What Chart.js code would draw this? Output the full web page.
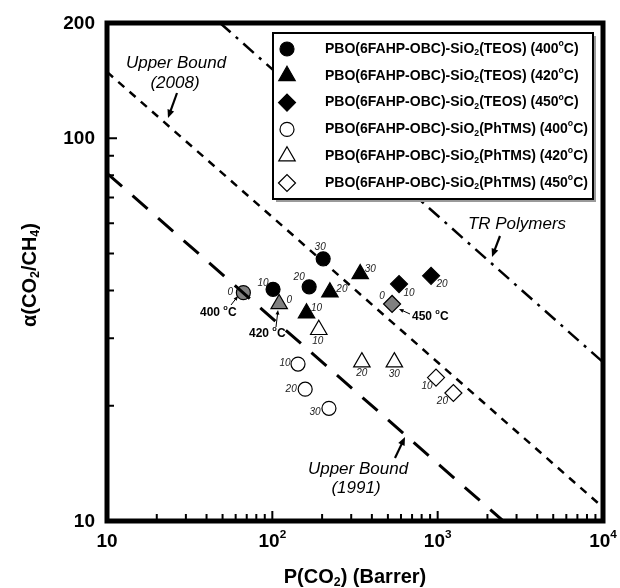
<!DOCTYPE html>
<html>
<head>
<meta charset="utf-8">
<script src="https://cdn.jsdelivr.net/npm/chart.js@4.4.0/dist/chart.umd.min.js"></script>
<style>
  html, body { margin: 0; padding: 0; background: #fff; }
  #wrap { width: 620px; height: 588px; }
</style>
</head>
<body>
<div id="wrap"><canvas id="chart" width="620" height="588"></canvas></div>
<script>
// P(CO2) in Barrer and CO2/CH4 selectivity.
// The first point of each TEOS series is the pristine (0 wt%) membrane.
const teos400P = [66.8, 101, 167, 203];
const teos400A = [39.5, 40.3, 40.9, 48.4];
const teos400Lbl = ['0', '10', '20', '30'];

const teos420P = [110, 161, 223, 340];
const teos420A = [36.9, 34.9, 39.6, 44.2];
const teos420Lbl = ['0', '10', '20', '30'];

const teos450P = [530, 584, 912];
const teos450A = [36.9, 41.6, 43.7];
const teos450Lbl = ['0', '10', '20'];

const phtms400P = [143, 158, 220];
const phtms400A = [25.7, 22.1, 19.7];
const phtms400Lbl = ['10', '20', '30'];

const phtms420P = [191, 348, 547];
const phtms420A = [31.6, 26.0, 26.0];
const phtms420Lbl = ['10', '20', '30'];

const phtms450P = [977, 1245];
const phtms450A = [23.7, 21.6];
const phtms450Lbl = ['10', '20'];

// trade-off lines, end points
const bound1991P = [10, 2490];
const bound1991A = [81, 10];
const bound2008P = [10, 10000];
const bound2008A = [149, 10.85];
const trP = [48.3, 10000];
const trA = [200, 26.0];

const xTicks = [10, 100, 1000, 10000];
const xTickText = [['10', ''], ['10', '2'], ['10', '3'], ['10', '4']];
const yTicks = [10, 100, 200];

const FONT = '"Liberation Sans", Arial, sans-serif';
const GREY = '#808080';

function pts(xs, ys) {
  return xs.map((x, i) => ({ x: x, y: ys[i] }));
}

// grey fill for the pristine point, black for the rest
function fills(n, firstGrey) {
  return Array.from({ length: n }, (_, i) => (firstGrey && i === 0 ? GREY : '#000'));
}

// label offsets (px) from each marker
const lblOffsets = [
  [[-13, 0], [-10, -6], [-10, -10], [-3, -12]],
  [[10, -4], [10, -5], [12, -3], [10, -5]],
  [[-10, -8], [10, 9], [11, 8]],
  [[-13, -1], [-14, 0], [-14, 4]],
  [[-1, 11], [0, 11], [0, 12]],
  [[-9, 9], [-11, 8]]
];

const markerSets = [
  { name: 'TEOS', temp: '400', P: teos400P, A: teos400A, lbl: teos400Lbl, style: 'circle', r: 7, fill: fills(4, true) },
  { name: 'TEOS', temp: '420', P: teos420P, A: teos420A, lbl: teos420Lbl, style: 'triangle', r: 9.5, fill: fills(4, true) },
  { name: 'TEOS', temp: '450', P: teos450P, A: teos450A, lbl: teos450Lbl, style: 'rectRot', r: 8.5, fill: fills(3, true) },
  { name: 'PhTMS', temp: '400', P: phtms400P, A: phtms400A, lbl: phtms400Lbl, style: 'circle', r: 7, fill: '#fff' },
  { name: 'PhTMS', temp: '420', P: phtms420P, A: phtms420A, lbl: phtms420Lbl, style: 'triangle', r: 9.5, fill: '#fff' },
  { name: 'PhTMS', temp: '450', P: phtms450P, A: phtms450A, lbl: phtms450Lbl, style: 'rectRot', r: 8.5, fill: '#fff' }
];

const datasets = [
  { label: 'bound1991', data: pts(bound1991P, bound1991A), showLine: true, pointRadius: 0,
    borderColor: '#000', borderWidth: 3, borderDash: [20, 14] },
  { label: 'bound2008', data: pts(bound2008P, bound2008A), showLine: true, pointRadius: 0,
    borderColor: '#000', borderWidth: 2.5, borderDash: [8, 7] },
  { label: 'tr', data: pts(trP, trA), showLine: true, pointRadius: 0,
    borderColor: '#000', borderWidth: 2.5, borderDash: [14, 7, 3, 7] }
];
markerSets.forEach(s => {
  datasets.push({
    label: s.name + s.temp,
    data: pts(s.P, s.A),
    pointStyle: s.style,
    pointRadius: s.r,
    pointBackgroundColor: s.fill,
    pointBorderColor: '#000',
    pointBorderWidth: 1.2,
    showLine: false
  });
});

// draw text pieces with sub/superscripts; returns width
function richWidth(ctx, parts, size, style) {
  let w = 0;
  parts.forEach(p => {
    const s = p[1] ? size * 0.62 : size;
    ctx.font = style + ' ' + s + 'px ' + FONT;
    w += ctx.measureText(p[0]).width;
  });
  return w;
}
function drawRich(ctx, parts, x, y, size, style) {
  parts.forEach(p => {
    const s = p[1] ? size * 0.62 : size;
    ctx.font = style + ' ' + s + 'px ' + FONT;
    let dy = 0;
    if (p[1] === 'sub') dy = size * 0.28;
    if (p[1] === 'sup') dy = -size * 0.38;
    ctx.fillText(p[0], x, y + dy);
    x += ctx.measureText(p[0]).width;
  });
}

function arrow(ctx, x1, y1, x2, y2, lw, head) {
  const a = Math.atan2(y2 - y1, x2 - x1);
  ctx.save();
  ctx.strokeStyle = '#000';
  ctx.fillStyle = '#000';
  ctx.lineWidth = lw;
  ctx.beginPath();
  ctx.moveTo(x1, y1);
  ctx.lineTo(x2 - Math.cos(a) * head * 0.6, y2 - Math.sin(a) * head * 0.6);
  ctx.stroke();
  ctx.beginPath();
  ctx.moveTo(x2, y2);
  ctx.lineTo(x2 - Math.cos(a - 0.4) * head, y2 - Math.sin(a - 0.4) * head);
  ctx.lineTo(x2 - Math.cos(a + 0.4) * head, y2 - Math.sin(a + 0.4) * head);
  ctx.closePath();
  ctx.fill();
  ctx.restore();
}

const decorPlugin = {
  id: 'decor',
  afterDatasetsDraw(chart) {
    const ctx = chart.ctx;
    const xs = chart.scales.x;
    const ys = chart.scales.y;
    const area = chart.chartArea;

    // loading labels next to markers
    ctx.save();
    ctx.fillStyle = '#222';
    ctx.font = 'italic 10px ' + FONT;
    ctx.textAlign = 'center';
    ctx.textBaseline = 'middle';
    markerSets.forEach((s, si) => {
      s.P.forEach((p, i) => {
        const px = xs.getPixelForValue(p);
        const py = ys.getPixelForValue(s.A[i]);
        const off = lblOffsets[si][i];
        ctx.fillText(s.lbl[i], px + off[0], py + off[1]);
      });
    });
    ctx.restore();

    // text annotations
    ctx.save();
    ctx.fillStyle = '#000';
    ctx.textAlign = 'center';
    ctx.textBaseline = 'middle';
    ctx.font = 'italic 17px ' + FONT;
    ctx.fillText('Upper Bound', 176, 63);
    ctx.fillText('(2008)', 175, 83);
    ctx.fillText('TR Polymers', 517, 224);
    ctx.fillText('Upper Bound', 358, 469);
    ctx.fillText('(1991)', 356, 488);
    arrow(ctx, 177, 93, 168, 118, 2.2, 9);
    arrow(ctx, 500, 236, 492, 257, 2.2, 9);
    arrow(ctx, 395, 458, 405, 437, 2.2, 9);

    ctx.textAlign = 'left';
    [['400', 200, 313], ['420', 249, 334], ['450', 412, 317]].forEach(t => {
      drawRich(ctx, [[t[0] + ' '], ['o', 'sup'], ['C']], t[1], t[2], 12, 'bold');
    });
    arrow(ctx, 231, 305, 238, 296, 1, 5);
    arrow(ctx, 276, 327, 278, 310, 1, 5);
    arrow(ctx, 410, 314, 399, 309, 1, 5);
    ctx.restore();

    // legend box
    ctx.save();
    const lx = 273, ly = 33, lw = 320, lh = 166;
    ctx.fillStyle = '#9a9a9a';
    ctx.fillRect(lx + 3, ly + 3, lw, lh);
    ctx.fillStyle = '#fff';
    ctx.fillRect(lx, ly, lw, lh);
    ctx.strokeStyle = '#000';
    ctx.lineWidth = 2;
    ctx.strokeRect(lx, ly, lw, lh);
    ctx.textAlign = 'left';
    ctx.textBaseline = 'middle';
    markerSets.forEach((s, i) => {
      const y = 49 + i * 26.8;
      ctx.fillStyle = s.name === 'TEOS' ? '#000' : '#fff';
      ctx.strokeStyle = '#000';
      ctx.lineWidth = 1.2;
      Chart.helpers.drawPoint(ctx, { pointStyle: s.style, radius: s.r, rotation: 0, borderWidth: 1.2 }, 287, y);
      ctx.fillStyle = '#000';
      drawRich(ctx, [['PBO(6FAHP-OBC)-SiO'], ['2', 'sub'], ['(' + s.name + ') (' + s.temp], ['o', 'sup'], ['C)']],
        325, y, 14, 'bold');
    });
    ctx.restore();

    // frame
    ctx.save();
    ctx.strokeStyle = '#000';
    ctx.lineWidth = 5;
    ctx.strokeRect(area.left, area.top, area.right - area.left, area.bottom - area.top);

    // inward ticks
    ctx.lineWidth = 2;
    ctx.beginPath();
    [10, 100, 1000].forEach(dec => {
      for (let m = 2; m <= 10; m++) {
        const v = dec * m;
        if (v >= 10000) continue;
        const px = xs.getPixelForValue(v);
        const len = m === 10 ? 10 : 7;
        ctx.moveTo(px, area.bottom);
        ctx.lineTo(px, area.bottom - len);
      }
    });
    for (let m = 2; m <= 10; m++) {
      const py = ys.getPixelForValue(10 * m);
      const len = m === 10 ? 10 : 7;
      ctx.moveTo(area.left, py);
      ctx.lineTo(area.left + len, py);
    }
    ctx.stroke();

    // tick labels
    ctx.fillStyle = '#000';
    ctx.textAlign = 'right';
    ctx.textBaseline = 'middle';
    ctx.font = 'bold 19px ' + FONT;
    yTicks.forEach(v => {
      ctx.fillText(String(v), 95, ys.getPixelForValue(v) + 1);
    });
    ctx.textAlign = 'left';
    xTicks.forEach((v, i) => {
      const t = xTickText[i];
      const parts = t[1] ? [[t[0]], [t[1], 'sup']] : [[t[0]]];
      const w = richWidth(ctx, parts, 19, 'bold');
      drawRich(ctx, parts, xs.getPixelForValue(v) - w / 2, 542, 19, 'bold');
    });

    // axis titles
    const xt = [['P(CO'], ['2', 'sub'], [') (Barrer)']];
    const xw = richWidth(ctx, xt, 20, 'bold');
    drawRich(ctx, xt, 355 - xw / 2, 577, 20, 'bold');

    const yt = [['\u03b1(CO'], ['2', 'sub'], ['/CH'], ['4', 'sub'], [')']];
    const yw = richWidth(ctx, yt, 20, 'bold');
    ctx.translate(30, 275);
    ctx.rotate(-Math.PI / 2);
    drawRich(ctx, yt, -yw / 2, 0, 20, 'bold');
    ctx.restore();
  }
};

const chart = new Chart(document.getElementById('chart'), {
  type: 'scatter',
  data: { datasets: datasets },
  options: {
    responsive: false,
    animation: false,
    devicePixelRatio: 1,
    layout: { padding: { left: 107, right: 17, top: 23, bottom: 67 } },
    plugins: { legend: { display: false }, tooltip: { enabled: false } },
    scales: {
      x: { type: 'logarithmic', min: 10, max: 10000, display: false },
      y: { type: 'logarithmic', min: 10, max: 200, display: false }
    }
  },
  plugins: [decorPlugin]
});
</script>
</body>
</html>
